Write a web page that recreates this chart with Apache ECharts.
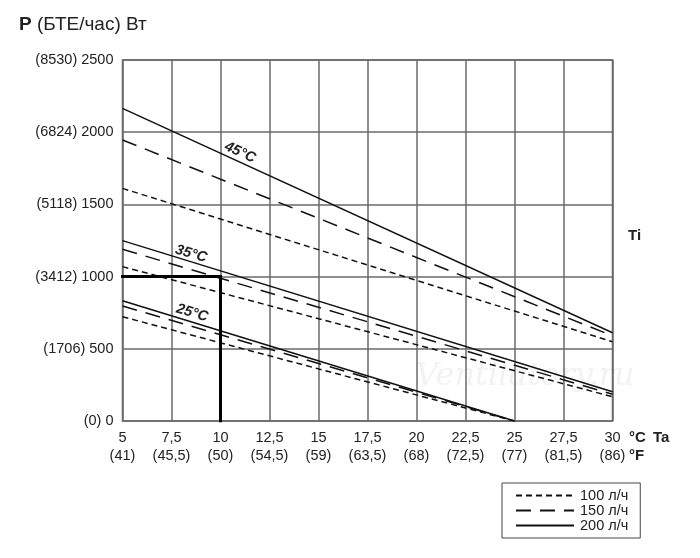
<!DOCTYPE html>
<html>
<head>
<meta charset="utf-8">
<script src="https://cdn.jsdelivr.net/npm/echarts@6/dist/echarts.min.js"></script>
<style>
  html, body { margin: 0; padding: 0; background: #fff; }
  #chart { width: 700px; height: 558px; }
</style>
</head>
<body>
<div id="chart"></div>
<script>
// ambient temperature Ta, °C and °F tick labels
const taCelsius = ['5', '7,5', '10', '12,5', '15', '17,5', '20', '22,5', '25', '27,5', '30']
const taFahrenheit = ['(41)', '(45,5)', '(50)', '(54,5)', '(59)', '(63,5)', '(68)', '(72,5)', '(77)', '(81,5)', '(86)']
// power ticks, W and BTU/h
const powerW = ['0', '500', '1000', '1500', '2000', '2500']
const powerBtu = ['(0)', '(1706)', '(3412)', '(5118)', '(6824)', '(8530)']

const flows = ['100 л/ч', '150 л/ч', '200 л/ч']
// each line: [Ta, P] at both ends, per inlet temperature Ti
const ti45 = {
  '100 л/ч': [[5, 1611], [30, 549]],
  '150 л/ч': [[5, 1946], [30, 590]],
  '200 л/ч': [[5, 2165], [30, 611]]
}
const ti35 = {
  '100 л/ч': [[5, 1069], [30, 168]],
  '150 л/ч': [[5, 1189], [30, 185]],
  '200 л/ч': [[5, 1249], [30, 203]]
}
const ti25 = {
  '100 л/ч': [[5, 722], [25, 0]],
  '150 л/ч': [[5, 796], [25, 0]],
  '200 л/ч': [[5, 833], [25, 0]]
}
// example reading: Ta = 10 °C -> 1000 W
const example = [[5, 1000], [10, 1000], [10, 0]]

const tiLabels = ['45°C', '35°C', '25°C']
const tiLabelAt = [[11.0, 1860], [8.5, 1157], [8.55, 748]]
const tiLabelTilt = [24, 16, 16]

const font = '"Liberation Sans", Arial, sans-serif'
const dashStyle = {
  '100 л/ч': [6, 4],
  '150 л/ч': [15, 9],
  '200 л/ч': 'solid'
}

let series = []
;[ti45, ti35, ti25].forEach(group => {
  flows.forEach(f => {
    series.push({
      name: f,
      type: 'line',
      data: group[f],
      symbol: 'none',
      showSymbol: false,
      silent: true,
      animation: false,
      lineStyle: { color: '#111', width: 1.5, type: dashStyle[f] }
    })
  })
})
series.push({
  name: 'example',
  type: 'line',
  data: example,
  symbol: 'none',
  silent: true,
  animation: false,
  lineStyle: { color: '#000', width: 3, cap: 'square', join: 'miter' }
})

const chart = echarts.init(document.getElementById('chart'))
chart.setOption({
  backgroundColor: '#fff',
  animation: false,
  textStyle: { fontFamily: font },
  title: {
    left: 14,
    top: 10,
    text: '{b|P} (БТЕ/час) Вт',
    textStyle: {
      fontSize: 19,
      fontWeight: 'normal',
      color: '#222',
      fontFamily: font,
      rich: { b: { fontSize: 19, fontWeight: 'bold', color: '#222', fontFamily: font } }
    }
  },
  grid: {
    left: 122.5,
    top: 60,
    width: 490,
    height: 361,
    show: true,
    borderColor: '#666',
    borderWidth: 1.5
  },
  xAxis: {
    type: 'value',
    min: 5,
    max: 30,
    interval: 2.5,
    axisLine: { show: false },
    axisTick: { show: false },
    splitLine: { show: true, lineStyle: { color: '#6a6a6a', width: 1.5 } },
    axisLabel: {
      margin: 8,
      color: '#222',
      fontSize: 14.5,
      fontFamily: font,
      lineHeight: 18,
      formatter: v => {
        const i = Math.round((v - 5) / 2.5)
        return taCelsius[i] + '\n' + taFahrenheit[i]
      }
    }
  },
  yAxis: {
    type: 'value',
    min: 0,
    max: 2500,
    interval: 500,
    axisLine: { show: false },
    axisTick: { show: false },
    splitLine: { show: true, lineStyle: { color: '#6a6a6a', width: 1.5 } },
    axisLabel: {
      margin: 9,
      color: '#222',
      fontSize: 14.5,
      fontFamily: font,
      formatter: v => {
        const i = Math.round(v / 500)
        return powerBtu[i] + ' ' + powerW[i]
      }
    }
  },
  legend: {
    data: flows,
    orient: 'vertical',
    left: 502,
    top: 483,
    padding: [5, 12, 5, 13],
    borderColor: '#444',
    borderWidth: 1,
    itemWidth: 58,
    itemHeight: 15,
    itemGap: 0,
    selectedMode: false,
    itemStyle: { color: 'transparent', borderWidth: 0, opacity: 0 },
    textStyle: { fontSize: 14.5, color: '#222', fontFamily: font, padding: [0, 0, 0, 1] }
  },
  series: series
})

// Ti labels along the lines, plus axis unit texts
let graphics = tiLabels.map((t, i) => {
  const p = chart.convertToPixel({ gridIndex: 0 }, tiLabelAt[i])
  return {
    type: 'text',
    x: p[0],
    y: p[1],
    rotation: -tiLabelTilt[i] * Math.PI / 180,
    silent: true,
    style: {
      text: t,
      fill: '#222',
      font: 'italic bold 14.5px ' + font,
      align: 'center',
      verticalAlign: 'middle'
    }
  }
})
const unitText = (txt, x, y) => ({
  type: 'text', x: x, y: y, silent: true,
  style: { text: txt, fill: '#222', font: 'bold 15px ' + font, verticalAlign: 'middle' }
})
graphics.push(unitText('°C', 629, 438))
graphics.push(unitText('Ta', 653, 438))
graphics.push(unitText('°F', 629, 456))
graphics.push(unitText('Ti', 628, 236))
graphics.push({
  type: 'text', x: 525, y: 377, silent: true, z: -1,
  style: {
    text: 'Ventilatory.ru',
    fill: '#f2f2f2',
    font: 'italic 32px "DejaVu Serif", serif',
    align: 'center',
    verticalAlign: 'middle'
  }
})
chart.setOption({ graphic: graphics })
</script>
</body>
</html>
